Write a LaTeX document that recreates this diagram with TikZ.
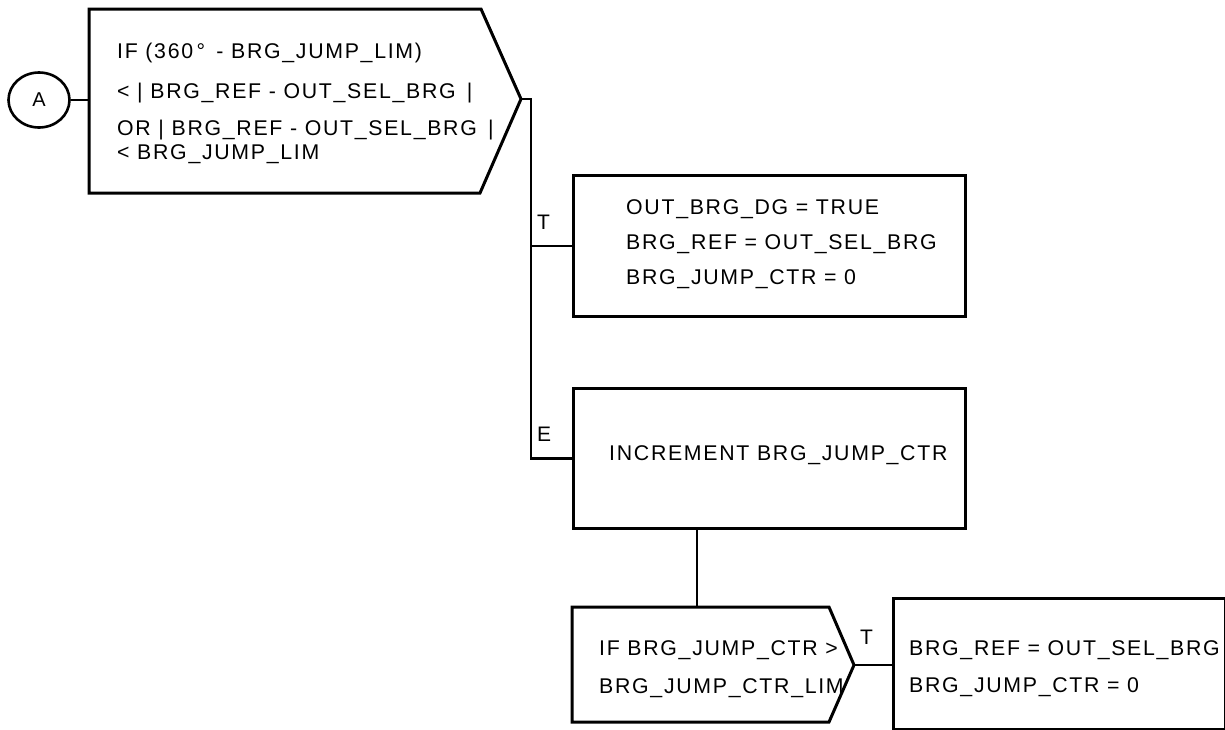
\documentclass[tikz,border=0pt]{standalone}
\usepackage{fontspec}
\setmainfont{Liberation Sans}[LetterSpace=8]
\usetikzlibrary{shapes.geometric}
\begin{document}
\begin{tikzpicture}[x=1pt,y=-1pt,
  shapeline/.style={line width=3pt, line join=miter},
  conn/.style={line width=2.8pt},
  thinconn/.style={line width=2pt},
  txt/.style={anchor=base west, inner sep=0pt, font=\fontsize{21.3}{25}\selectfont},
  lbl/.style={anchor=base west, inner sep=0pt, font=\fontsize{21}{24}\selectfont},
  rect/.style={draw, shapeline, anchor=north west, inner sep=0pt}]
\useasboundingbox (0,0) rectangle (1225,729);

% connector circle
\node[draw, ellipse, line width=2.6pt, minimum width=61, minimum height=55, inner sep=0pt,
      font=\fontsize{20}{22}\selectfont] (A) at (39,100) {A};

% decision 1
\coordinate (d1nw) at (89,9);
\coordinate (d1ne) at (481,9);
\coordinate (d1tip) at (521,99);
\coordinate (d1se) at (480,193);
\coordinate (d1sw) at (89,193);
\coordinate (d1w) at (89,100);
\draw[shapeline] (d1nw) -- (d1ne) -- (d1tip) -- (d1se) -- (d1sw) -- cycle;
\node[txt] (d1l1) at (117,58) {IF (360\,° \,- BRG\_JUMP\_LIM)};
\node[txt] (d1l2) at (117,98) {< | BRG\_REF - OUT\_SEL\_BRG \,|};
\node[txt] (d1l3) at (117,135) {OR | BRG\_REF - OUT\_SEL\_BRG \,|};
\node[txt] (d1l4) at (117,159) {< BRG\_JUMP\_LIM};

% boxes
\node[rect, minimum width=392, minimum height=141] (b1) at (572,174) {};
\node[txt] (b1l1) at (626,214) {OUT\_BRG\_DG = TRUE};
\node[txt] (b1l2) at (626,249) {BRG\_REF = OUT\_SEL\_BRG};
\node[txt] (b1l3) at (626,284) {BRG\_JUMP\_CTR = 0};

\node[rect, minimum width=392, minimum height=140] (b2) at (572,387) {};
\node[txt] (b2l1) at (609,460) {INCREMENT BRG\_JUMP\_CTR};

% decision 2
\coordinate (d2nw) at (572,607);
\coordinate (d2top) at (697,607);
\coordinate (d2ne) at (829,607);
\coordinate (d2tip) at (854,665);
\coordinate (d2se) at (829,722);
\coordinate (d2sw) at (572,722);
\draw[shapeline] (d2nw) -- (d2ne) -- (d2tip) -- (d2se) -- (d2sw) -- cycle;
\node[txt] (d2l1) at (599,655) {IF BRG\_JUMP\_CTR >};
\node[txt] (d2l2) at (599,693) {BRG\_JUMP\_CTR\_LIM};

% box 3 (partly cut by the page edge)
\node[rect, minimum width=332, minimum height=131] (b3) at (892,597) {};
\node[txt] (b3l1) at (909,655) {BRG\_REF = OUT\_SEL\_BRG};
\node[txt] (b3l2) at (909,692) {BRG\_JUMP\_CTR = 0};

% connectors
\draw[conn] (A.east) -- (d1w);
\draw[conn] (d1tip) -- (531,99) coordinate (bus) -- (bus |- b2.west) -- (b2.west);
\draw[conn] (bus |- b1.west) -- (b1.west);
\draw[thinconn] (b2.south -| d2top) -- (d2top);
\draw[conn] (d2tip) -- (d2tip -| b3.west);

% branch labels
\node[lbl] (tlab) at (537,229) {T};
\node[lbl] (elab) at (537,441) {E};
\node[lbl] (tlab2) at (860,644) {T};
\end{tikzpicture}
\end{document}
